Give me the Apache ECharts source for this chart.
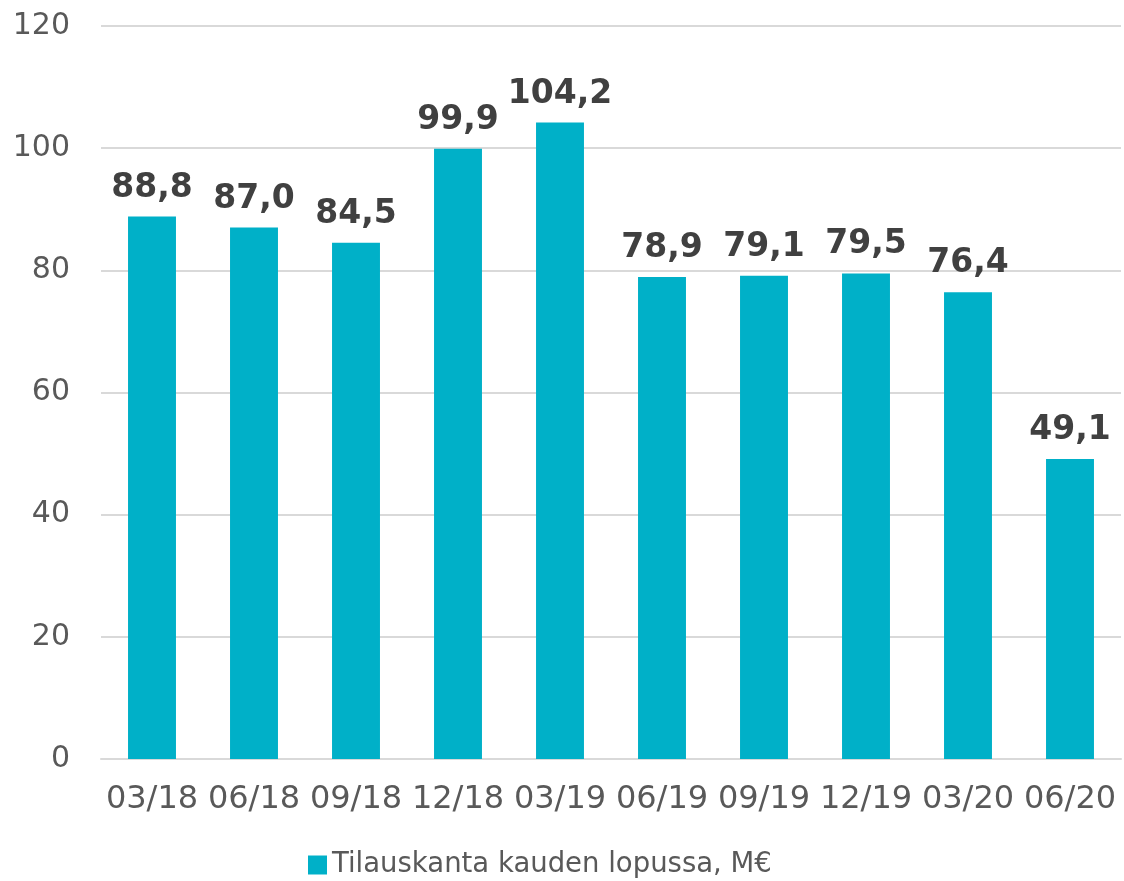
<!DOCTYPE html>
<html>
<head>
	<meta charset="UTF-8">
	<title></title>
	<style>
		html, body { margin: 0; padding: 0; background: #fff; }
		#main { width: 1124px; height: 881px; }
	</style>
</head>
<body>
	<div id="main"></div>
</body>
<script src="https://cdn.jsdelivr.net/npm/echarts@6/dist/echarts.min.js"></script>
<script>
// kvartaalit
var categories = ['03/18', '06/18', '09/18', '12/18', '03/19', '06/19', '09/19', '12/19', '03/20', '06/20'];
// tilauskanta, M€
var values = [88.8, 87.0, 84.5, 99.9, 104.2, 78.9, 79.1, 79.5, 76.4, 49.1];
var yTicks = [0, 20, 40, 60, 80, 100, 120];

var seriesName = 'Tilauskanta kauden lopussa, M€';
var font = 'DejaVu Sans';

var chart = echarts.init(document.getElementById('main'));

var option = {
    animation: false,
    grid: {
        left: 101,
        right: 3,
        top: 26,
        bottom: 122
    },
    legend: {
        top: 846,
        left: 303,
        itemWidth: 19,
        itemHeight: 19,
        itemGap: 6,
        icon: 'rect',
        textStyle: {
            fontFamily: font,
            fontSize: 27.5,
            color: '#595959'
        },
        data: [seriesName]
    },
    xAxis: {
        type: 'category',
        data: categories,
        axisLine: { lineStyle: { color: '#d9d9d9', width: 2 } },
        axisTick: { show: false },
        axisLabel: {
            interval: 0,
            margin: 25,
            fontFamily: font,
            fontSize: 32,
            color: '#595959'
        }
    },
    yAxis: {
        type: 'value',
        min: yTicks[0],
        max: yTicks[yTicks.length - 1],
        interval: 20,
        axisLine: { show: false },
        axisTick: { show: false },
        splitLine: { lineStyle: { color: '#d9d9d9', width: 2 } },
        axisLabel: {
            margin: 31,
            fontFamily: font,
            fontSize: 30,
            color: '#595959'
        }
    },
    series: [{
        name: seriesName,
        type: 'bar',
        data: values,
        barWidth: '47%',
        itemStyle: { color: '#00b0c8' },
        label: {
            show: true,
            position: 'top',
            distance: 12,
            fontFamily: font,
            fontSize: 33,
            fontWeight: 'bold',
            color: '#404040',
            formatter: function (p) {
                return p.value.toFixed(1).replace('.', ',');
            }
        }
    }]
};

chart.setOption(option);
</script>
</html>
